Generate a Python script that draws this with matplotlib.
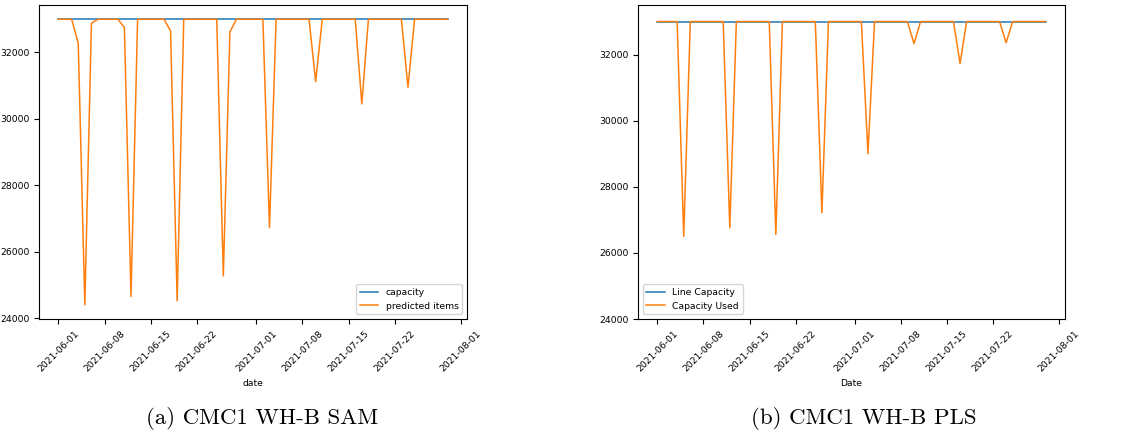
import matplotlib
matplotlib.use("Agg")
import matplotlib.pyplot as plt
import pandas as pd

# daily values, 2021-06-01 .. 2021-07-30 (one row per week)
dates = pd.date_range("2021-06-01", periods=60, freq="D")

capacity = [33000] * 60

sam_predicted = [
    33000, 33000, 33000, 32280, 24400, 32880, 33000,
    33000, 33000, 33000, 32750, 24650, 33000, 33000,
    33000, 33000, 33000, 32650, 24520, 33000, 33000,
    33000, 33000, 33000, 33000, 25270, 32620, 33000,
    33000, 33000, 33000, 33000, 26720, 33000, 33000,
    33000, 33000, 33000, 33000, 31120, 33000, 33000,
    33000, 33000, 33000, 33000, 30450, 33000, 33000,
    33000, 33000, 33000, 33000, 30950, 33000, 33000,
    33000, 33000, 33000, 33000,
]

pls_used = [
    33000, 33000, 33000, 33000, 26500, 33000, 33000,
    33000, 33000, 33000, 33000, 26760, 33000, 33000,
    33000, 33000, 33000, 33000, 26560, 33000, 33000,
    33000, 33000, 33000, 33000, 27220, 33000, 33000,
    33000, 33000, 33000, 33000, 29000, 33000, 33000,
    33000, 33000, 33000, 33000, 32330, 33000, 33000,
    33000, 33000, 33000, 33000, 31730, 33000, 33000,
    33000, 33000, 33000, 33000, 32360, 33000, 33000,
    33000, 33000, 33000, 33000,
]

W, H = 1121, 437
fig = plt.figure(figsize=(W / 100, H / 100), dpi=100)

def box(x0, y0, x1, y1):
    return [x0 / W, 1 - y1 / H, (x1 - x0) / W, (y1 - y0) / H]

ax1 = fig.add_axes(box(39, 5, 467, 319))
ax2 = fig.add_axes(box(638, 5, 1065, 319))

fs = 6.7
lw = 1.1

# (a) SAM
ax1.plot(dates, capacity, color="#1f77b4", lw=lw, label="capacity")
ax1.plot(dates, sam_predicted, color="#ff7f0e", lw=lw, label="predicted items")
ax1.set_xlabel("date", fontsize=fs)
ax1.legend(loc="lower right", fontsize=fs)

# (b) PLS
ax2.plot(dates, capacity, color="#1f77b4", lw=lw, label="Line Capacity")
ax2.plot(dates, pls_used, color="#ff7f0e", lw=lw, label="Capacity Used")
ax2.set_ylim(24000, 33500)
ax2.set_xlabel("Date", fontsize=fs)
ax2.legend(loc="lower left", fontsize=fs)

for ax in (ax1, ax2):
    ax.tick_params(labelsize=fs)
    for lab in ax.get_xticklabels():
        lab.set_rotation(45)
    ax.set_yticks([24000, 26000, 28000, 30000, 32000])

cap_font = ["cmr10", "DejaVu Serif"]
fig.text(262 / W, 1 - 418 / H, "(a) CMC1 WH-B SAM", ha="center", va="center",
         fontsize=16.5, family=cap_font)
fig.text(864 / W, 1 - 418 / H, "(b) CMC1 WH-B PLS", ha="center", va="center",
         fontsize=16.5, family=cap_font)

fig.savefig("out.png", dpi=100)
